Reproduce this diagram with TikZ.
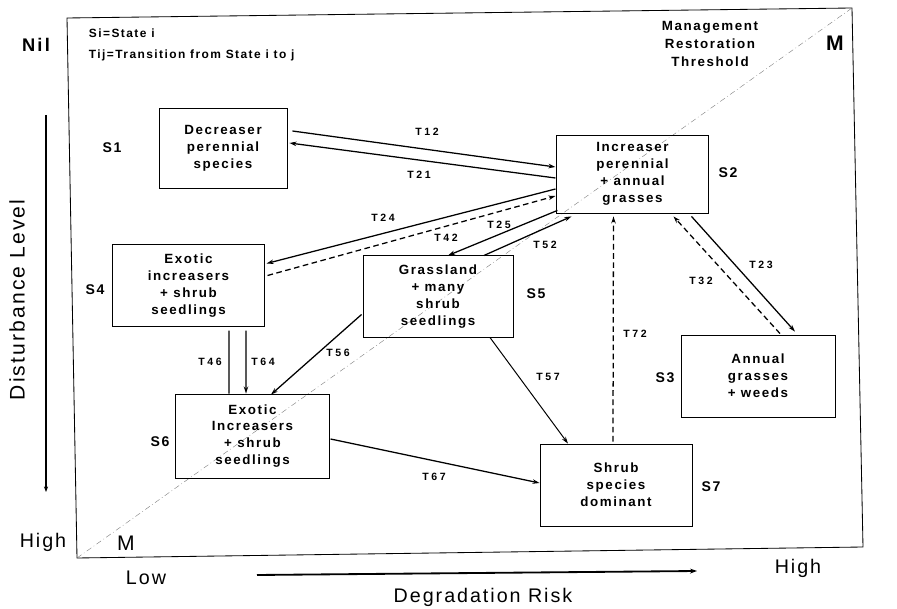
\documentclass[tikz,border=0pt]{standalone}
\usepackage{fontspec}
\setmainfont{Liberation Sans}
\newfontfamily\boxfont[LetterSpace=12]{Liberation Sans}
\newfontfamily\tfont[LetterSpace=25]{Liberation Sans}
\newfontfamily\axisfont[LetterSpace=10]{Liberation Sans}
\usetikzlibrary{arrows.meta,calc}

\begin{document}
\begin{tikzpicture}[x=0.025cm,y=-0.025cm,
  state/.style={draw,line width=0.6pt,align=center,inner sep=0pt,
    font=\boxfont\bfseries\fontsize{9.5}{12}\selectfont},
  slabel/.style={font=\boxfont\bfseries\fontsize{10}{12}\selectfont},
  tlabel/.style={font=\tfont\bfseries\fontsize{7.5}{8}\selectfont},
  trans/.style={line width=0.9pt,-{Stealth[length=5pt,width=3.2pt]}},
  back/.style={trans,dash pattern=on 4pt off 2.5pt},
  axis/.style={font=\axisfont\fontsize{14}{16}\selectfont}]
\useasboundingbox (0,0) rectangle (897,609);

\draw[line width=0.6pt] (67,18) -- (852,8) -- (863,547) -- (77,558) -- cycle;
\draw[line width=0.3pt,gray,dash pattern=on 4pt off 2pt on 0.5pt off 2pt]
  (77,558) -- (852,8);

\node[anchor=west,font=\boxfont\bfseries\fontsize{8.5}{10}\selectfont] (key1) at (84,33) {Si=State i};
\node[anchor=west,font=\boxfont\bfseries\fontsize{8.5}{10}\selectfont] (key2) at (84,55) {Tij=Transition from State i to j};
\node[align=center,font=\boxfont\bfseries\fontsize{9.5}{12.5}\selectfont] (mrt) at (710,44)
  {Management\\Restoration\\Threshold};
\node[font=\bfseries\fontsize{15}{16}\selectfont] (mtop) at (835,43) {M};
\node[font=\fontsize{15}{16}\selectfont] (mbot) at (126,543) {M};

\node[state,minimum width=3.2cm,minimum height=2cm] (s1) at (223,148)
  {Decreaser\\perennial\\species};
\node[state,minimum width=3.78cm,minimum height=1.95cm] (s2) at (632.5,174)
  {Increaser\\perennial\\+ annual\\grasses};
\node[state,minimum width=3.78cm,minimum height=2.03cm] (s4) at (188.5,285.5)
  {Exotic\\increasers\\+ shrub\\seedlings};
\node[state,minimum width=3.75cm,minimum height=2.03cm] (s5) at (438,296.5)
  {Grassland\\+ many\\shrub\\seedlings};
\node[state,minimum width=3.83cm,minimum height=2.1cm] (s6) at (252.5,436)
  {Exotic\\Increasers\\+ shrub\\seedlings};
\node[state,minimum width=3.85cm,minimum height=2.05cm] (s3) at (758,376)
  {Annual\\grasses\\+ weeds};
\node[state,minimum width=3.8cm,minimum height=2.05cm] (s7) at (616,485)
  {Shrub\\species\\dominant};

\node[slabel] (l1) at (112,148) {S1};
\node[slabel] (l2) at (728,173) {S2};
\node[slabel] (l4) at (95,290) {S4};
\node[slabel] (l5) at (536,294) {S5};
\node[slabel] (l6) at (160,442) {S6};
\node[slabel] (l3) at (665,378) {S3};
\node[slabel] (l7) at (711,487) {S7};

\draw[trans] ($(s1.east)+(5,-17)$) -- ($(s2.west)+(-1,-7)$);
\draw[trans] ($(s2.west)+(-1,4)$) -- ($(s1.east)+(2,-5)$);
\draw[trans] ($(s2.west)+(-1,15)$) -- ($(s4.east)+(2,-22)$);
\draw[back] ($(s4.east)+(3,-10)$) -- ($(s2.west)+(-1,22)$);
\draw[trans] ($(s2.south west)+(1,-3)$) -- ($(s5.north)+(10,0)$);
\draw[trans] ($(s5.north)+(46,0)$) -- ($(s2.south west)+(15,3)$);
\draw[trans] ($(s2.south)+(59,3)$) -- ($(s3.north)+(37,-3)$);
\draw[back] ($(s3.north)+(22,-1)$) -- ($(s2.south)+(41,3)$);
\draw[back] ($(s7.north)+(-3,-2)$) -- ($(s2.south)+(-19,3)$);
\draw[line width=0.9pt] ($(s4.south)+(40.5,4)$) -- ($(s6.north)+(-23.5,0)$);
\draw[trans] ($(s4.south)+(57.5,4)$) -- ($(s6.north)+(-6.5,0)$);
\draw[trans] ($(s5.west)+(-1,18)$) -- ($(s6.north)+(18.5,1)$);
\draw[trans,line width=0.7pt] ($(s5.south)+(52,0)$) -- ($(s7.north)+(-48,0)$);
\draw[trans] ($(s6.east)+(1,3)$) -- ($(s7.west)+(0,-2)$);

\node[tlabel] (t12) at (427,132) {T12};
\node[tlabel] (t21) at (419,175) {T21};
\node[tlabel] (t24) at (383,218) {T24};
\node[tlabel] (t42) at (446,238) {T42};
\node[tlabel] (t25) at (499,225) {T25};
\node[tlabel] (t52) at (545,245) {T52};
\node[tlabel] (t23) at (761,265) {T23};
\node[tlabel] (t32) at (701,281) {T32};
\node[tlabel] (t72) at (635,334) {T72};
\node[tlabel] (t46) at (210,362) {T46};
\node[tlabel] (t64) at (263,362) {T64};
\node[tlabel] (t56) at (338,353) {T56};
\node[tlabel] (t57) at (548,377) {T57};
\node[tlabel] (t67) at (434,477) {T67};

\node[font=\boxfont\bfseries\fontsize{13}{14}\selectfont] (nil) at (36,45) {Nil};
\node[axis] (hileft) at (43,542) {High};
\node[axis,rotate=90,font=\axisfont\fontsize{15}{16}\selectfont] (dist) at (17,300) {Disturbance Level};
\coordinate (dtop) at (46,115);
\coordinate (dbot) at (46,492);
\draw[line width=0.9pt,-{Stealth[length=4pt,width=3pt]}] (dtop) -- (dbot);
\node[axis] (low) at (146,578) {Low};
\node[axis] (hiright) at (798,568) {High};
\node[axis] (degr) at (483,597) {Degradation Risk};
\coordinate (rleft) at (257,575);
\coordinate (rright) at (697,571);
\draw[line width=1.3pt,-{Stealth[length=5pt,width=3.5pt]}] (rleft) -- (rright);
\end{tikzpicture}
\end{document}
